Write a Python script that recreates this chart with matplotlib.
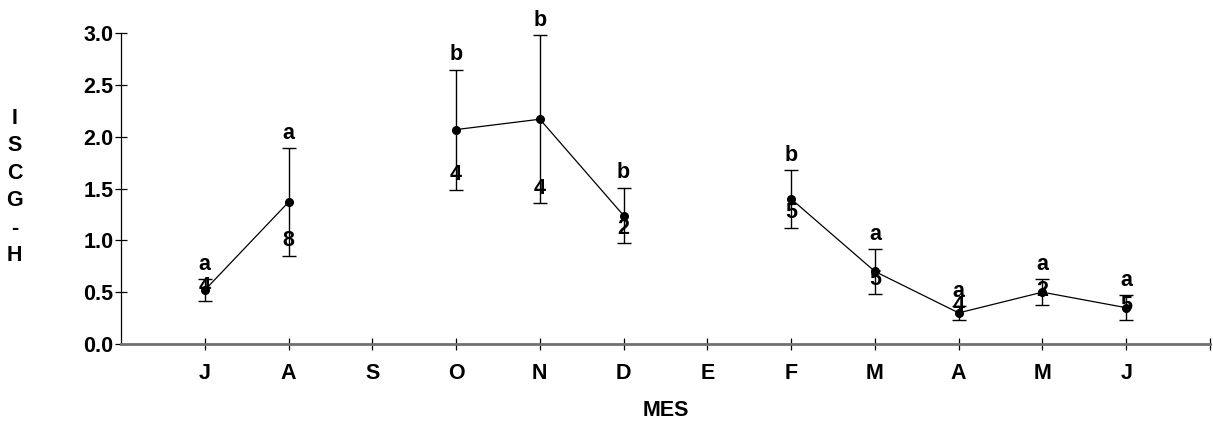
import numpy as np
import matplotlib
matplotlib.use("Agg")
import matplotlib.pyplot as plt

plt.rcParams['font.family'] = ['Liberation Sans', 'DejaVu Sans']
plt.rcParams['font.weight'] = 'bold'

# monthly ISCG-H, July to June (no samples in S and E)
months = ["J", "A", "S", "O", "N", "D", "E", "F", "M", "A", "M", "J"]
mean_iscg = [0.52, 1.37, np.nan, 2.07, 2.17, 1.24, np.nan, 1.40, 0.70, 0.30, 0.50, 0.35]
sd_iscg = [0.11, 0.52, np.nan, 0.58, 0.81, 0.27, np.nan, 0.28, 0.22, 0.07, 0.125, 0.12]
groups = ["a", "a", "", "b", "b", "b", "", "b", "a", "a", "a", "a"]
n_samples = ["4", "8", "", "4", "4", "2", "", "5", "5", "4", "2", "5"]

x = np.arange(1, len(months) + 1)
mean_iscg = np.array(mean_iscg)
sd_iscg = np.array(sd_iscg)

fig = plt.figure(figsize=(12.13, 4.21), dpi=100)
ax = fig.add_axes([0.0998, 0.183, 0.8977, 0.738])

ax.plot(x, mean_iscg, color='black', lw=0.9, marker='o', ms=5.5, zorder=3)
ok = ~np.isnan(mean_iscg)
ax.errorbar(x[ok], mean_iscg[ok], yerr=sd_iscg[ok], fmt='none', ecolor='black',
            elinewidth=1.0, capsize=4.7, capthick=1.0, zorder=2)

fs = 15.5
for xi, m, s, g, n in zip(x, mean_iscg, sd_iscg, groups, n_samples):
    if np.isnan(m):
        continue
    # group letter above the upper cap, sample size just above the lower cap
    ax.annotate(g, (xi, m + s), xytext=(0, 10.5), textcoords='offset points',
                ha='center', va='center', fontsize=fs, fontweight='bold', clip_on=False)
    ax.annotate(n, (xi, m - s), xytext=(0, 10.8), textcoords='offset points',
                ha='center', va='center', fontsize=fs, fontweight='bold', zorder=4)

ax.set_xlim(0, 13)
ax.set_ylim(0, 3.0)
ax.set_xticks(list(range(1, 14)))
ax.set_xticklabels(months + [""])
ax.set_yticks(np.arange(0, 3.01, 0.5))
ax.set_yticklabels([f"{v:.1f}" for v in np.arange(0, 3.01, 0.5)])

for sp in ['top', 'right']:
    ax.spines[sp].set_visible(False)
ax.spines['left'].set_linewidth(0.9)
ax.spines['bottom'].set_color('#707070')
ax.spines['bottom'].set_linewidth(2.0)
ax.tick_params(axis='both', direction='inout', length=9, width=0.9, labelsize=fs)
ax.tick_params(axis='x', pad=9)
ax.tick_params(axis='y', pad=1)
for lab in ax.get_xticklabels() + ax.get_yticklabels():
    lab.set_fontweight('bold')

ax.set_xlabel("MES", fontsize=fs, fontweight='bold', va='center')
ax.xaxis.set_label_coords(0.5, -0.215)
fig.text(0.012, 0.556, "\n".join("ISCG-H"), ha='center', va='center',
         fontsize=fs, fontweight='bold', linespacing=1.4)

fig.savefig("out.png", dpi=100)
